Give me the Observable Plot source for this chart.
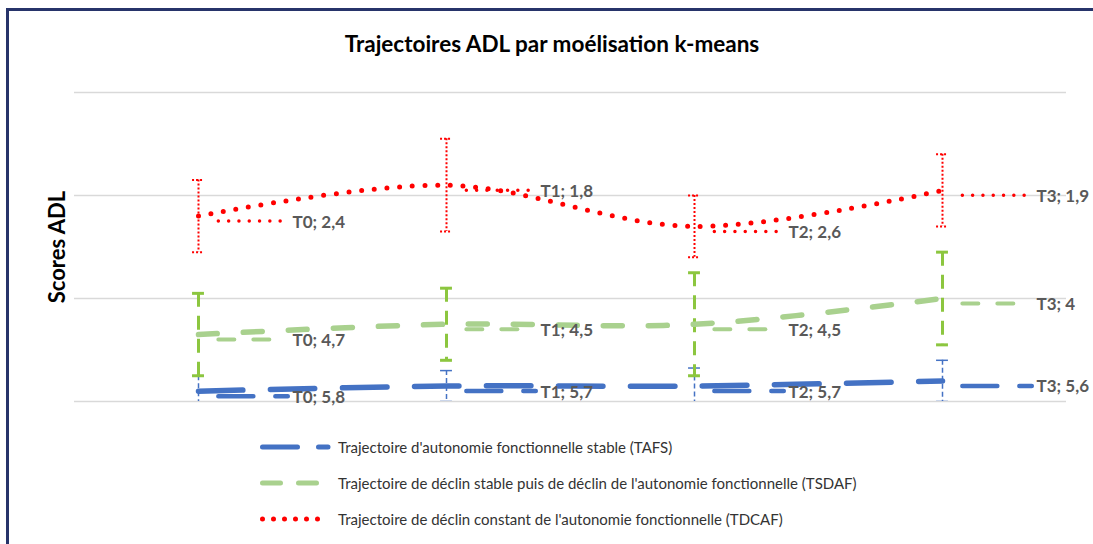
<!DOCTYPE html>
<html>
<head>
<meta charset="utf-8">
<script src="https://cdn.jsdelivr.net/npm/d3@7"></script>
<script src="https://cdn.jsdelivr.net/npm/@observablehq/plot@0.6"></script>
<style>
  html, body { margin: 0; padding: 0; background: #fff; }
  #wrap { position: relative; width: 1093px; height: 544px; overflow: hidden; background: #fff; font-family: Lato, "Open Sans", sans-serif; }
  #frame { position: absolute; left: 6px; top: 8px; width: 1200px; height: 700px; border-left: 3px solid #27346a; border-top: 3px solid #27346a; }
  #title { position: absolute; left: 0; width: 1104px; top: 30px; text-align: center; font-weight: 700; font-size: 22.5px; color: #000; line-height: 28px; }
  #chart { position: absolute; left: 0; top: 60px; }
  .lg { position: absolute; left: 257px; height: 20px; display: flex; align-items: center; font-size: 15px; color: #333; white-space: nowrap; }
  .lg svg { width: 78px; height: 14px; margin-right: 3px; }
</style>
</head>
<body>
<div id="wrap">
  <div id="frame"></div>
  <div id="title">Trajectoires ADL par moélisation k-means</div>
  <div id="chart"></div>
  <div id="legend"></div>
</div>
<script>
// ---- data ----
const times = ["T0", "T1", "T2", "T3"];
const seriesNames = [
  "Trajectoire d'autonomie fonctionnelle stable (TAFS)",
  "Trajectoire de déclin stable puis de déclin de l'autonomie fonctionnelle (TSDAF)",
  "Trajectoire de déclin constant de l'autonomie fonctionnelle (TDCAF)"
];
const tafs = [5.8, 5.7, 5.7, 5.6];
const tafsErr = [0.3, 0.3, 0.35, 0.4];
const tsdaf = [4.7, 4.5, 4.5, 4.0];
const tsdafErr = [0.8, 0.7, 1.0, 0.9];
const tdcaf = [2.4, 1.8, 2.6, 1.9];
const tdcafErr = [0.7, 0.9, 0.6, 0.7];
const gridTicks = [0, 2, 4, 6];
const yTitle = "Scores ADL";

// ---- styles ----
const styles = [
  { color: "#4472c4", bar: "#4472c4", lw: 5.5, dash: "44.5,27.5", lead: 4.5, leadDash: "35,22", barW: 1.5, barDash: "5,3", capDash: null, legDash: "35,21", legW: 5 },
  { color: "#a9d18e", bar: "#8cc63f", lw: 5.5, dash: "19,26", lead: 4, leadDash: "16,19", barW: 3, barDash: "14,9", capDash: null, legDash: "18,18", legW: 5 },
  { color: "#ff0000", bar: "#ff0000", lw: 5, dash: "0,12.7", lead: 3.5, leadDash: "0,10.3", barW: 2, barDash: "2,2", capDash: "2,2", legDash: "0,11", legW: 5 }
];

const fmt = v => String(v).replace(".", ",");
const build = (vals, errs) => vals.map((v, i) => ({ i, t: times[i], v, e: errs[i], label: `${times[i]}; ${fmt(v)}` }));
const series = [build(tafs, tafsErr), build(tsdaf, tsdafErr), build(tdcaf, tdcafErr)];

const marks = [Plot.ruleY(gridTicks, { stroke: "#d9d9d9", strokeWidth: 1.5 })];
const capHalf = 0.024;
// error bars first
series.forEach((data, k) => {
  const s = styles[k];
  const common = { stroke: s.bar, strokeWidth: s.barW, clip: true };
  marks.push(Plot.ruleX(data, { x: "i", y1: d => d.v - d.e, y2: d => d.v + d.e, strokeDasharray: s.barDash, ...common }));
  marks.push(Plot.ruleY(data, { y: d => d.v - d.e, x1: d => d.i - capHalf, x2: d => d.i + capHalf, strokeDasharray: s.capDash, ...common }));
  marks.push(Plot.ruleY(data, { y: d => d.v + d.e, x1: d => d.i - capHalf, x2: d => d.i + capHalf, strokeDasharray: s.capDash, ...common }));
});
// lines
series.forEach((data, k) => {
  const s = styles[k];
  marks.push(Plot.line(data, { x: "i", y: "v", curve: "catmull-rom", stroke: s.color, strokeWidth: s.lw, strokeDasharray: s.dash, strokeLinecap: "round" }));
});
// leaders + labels
series.forEach((data, k) => {
  const s = styles[k];
  marks.push(Plot.link(data, { x1: d => d.i + 0.08, x2: d => d.i + 0.36, y1: "v", y2: "v", dy: 5, stroke: s.color, strokeWidth: s.lead, strokeDasharray: s.leadDash, strokeLinecap: "round" }));
  marks.push(Plot.text(data, { x: "i", y: "v", text: "label", dx: 94, dy: 6, textAnchor: "start", fontSize: 17, fontWeight: 700, fill: "#595959", fontFamily: "Lato" }));
});
marks.push(Plot.text([yTitle], { frameAnchor: "left", dx: -17, rotate: -90, textAnchor: "middle", fontSize: 22, fontWeight: 700, fill: "#000", fontFamily: "Lato" }));

const chart = Plot.plot({
  width: 1093,
  height: 360,
  marginLeft: 74,
  marginRight: 27,
  marginTop: 32,
  marginBottom: 19,
  style: { background: "transparent", overflow: "visible" },
  x: { domain: [-0.5, 3.5], axis: null },
  y: { domain: [0, 6], reverse: true, axis: null },
  marks
});
document.getElementById("chart").appendChild(chart);

// legend
const legend = document.getElementById("legend");
const rowTops = [437, 473, 509];
seriesNames.forEach((name, k) => {
  const s = styles[k];
  const row = document.createElement("div");
  row.className = "lg";
  row.style.top = rowTops[k] + "px";
  const end = k === 1 ? 60 : 71;
  row.innerHTML = `<svg viewBox="0 0 78 14"><line x1="5.5" y1="7" x2="${end}" y2="7" stroke="${s.color}" stroke-width="${s.legW}" stroke-dasharray="${s.legDash}" stroke-linecap="round"/></svg><span>${name}</span>`;
  legend.appendChild(row);
});
</script>
</body>
</html>
